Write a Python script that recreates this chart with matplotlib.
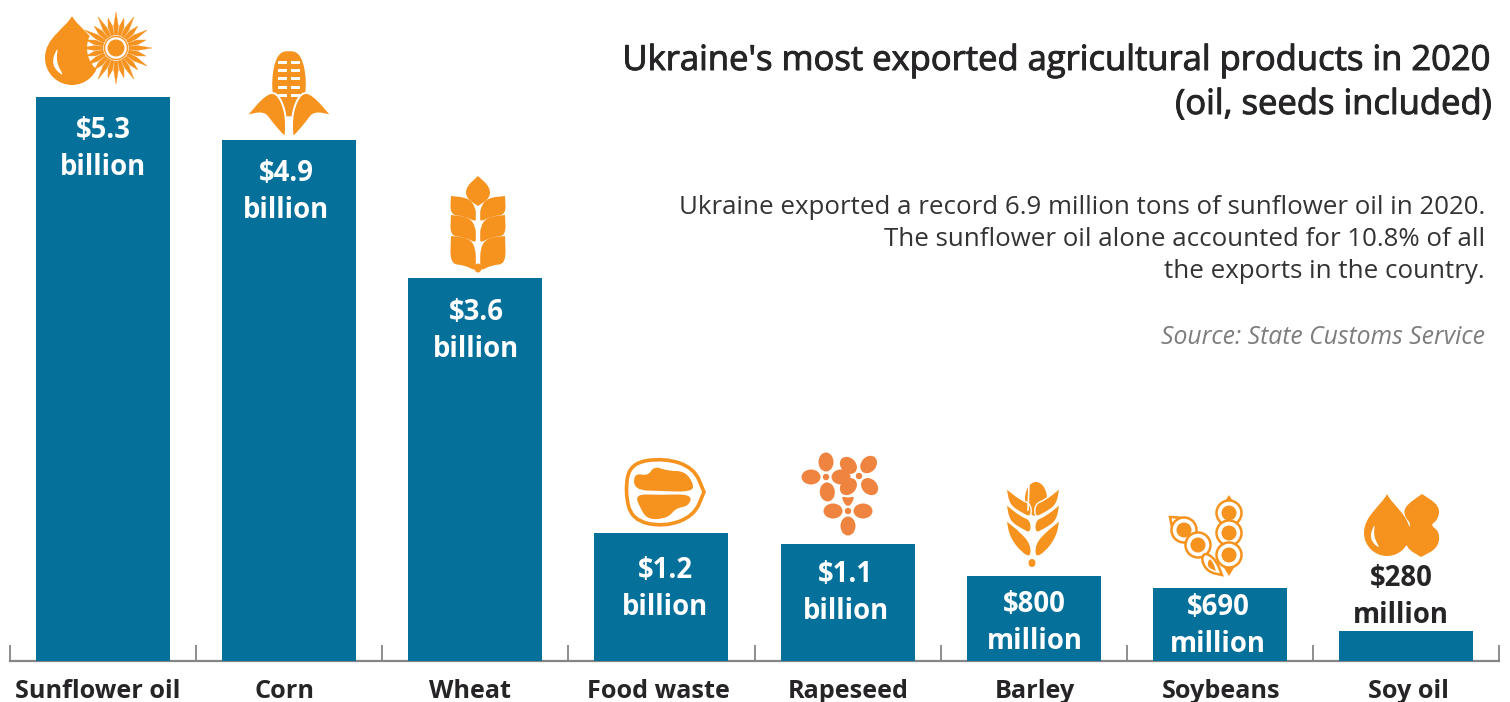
#!/usr/bin/python
import numpy as np
import matplotlib
matplotlib.use("Agg")
import matplotlib.pyplot as plt
import matplotlib.patheffects as pe
from matplotlib.path import Path
from matplotlib.patches import PathPatch, Circle, Ellipse, Rectangle

# Export values, billions of dollars
products = ["Sunflower oil", "Corn", "Wheat", "Food waste", "Rapeseed", "Barley", "Soybeans", "Soy oil"]
export_values = [5.3, 4.9, 3.6, 1.2, 1.1, 0.80, 0.69, 0.28]
value_labels = ["$5.3\nbillion", "$4.9\nbillion", "$3.6\nbillion", "$1.2\nbillion",
                "$1.1\nbillion", "$800\nmillion", "$690\nmillion", "$280\nmillion"]

title_lines = ["Ukraine's most exported agricultural products in 2020", "(oil, seeds included)"]
note_lines = ["Ukraine exported a record 6.9 million tons of sunflower oil in 2020.",
              "The sunflower oil alone accounted for 10.8% of all",
              "the exports in the country."]
source_text = "Source: State Customs Service"

# Label nudges in pixels, measured from the bar centre / bar top
product_dx = [-5, -5, -5, -3, 1, 1, 1, 3]
value_dx = [0, -3, 1, 4, -2, 1, -2, -5]
value_dy = [52, 52, 53, 56, 49, 47, 38, -34]

BLUE = "#05709a"
ORANGE = "#f6931f"
PETAL = "#ef8440"
DARK = "#262426"
FONT = "Open Sans"
PX = 0.72  # points per pixel at 100 dpi


def blob(ax, pts, color=ORANGE, ec="none", lw=0, z=3):
    # Smooth closed shape through the midpoints of pts
    pts = np.asarray(pts, dtype=float)
    n = len(pts)
    mids = (pts + np.roll(pts, -1, axis=0)) / 2
    verts = [mids[-1]]
    codes = [Path.MOVETO]
    for i in range(n):
        verts += [pts[i], mids[i]]
        codes += [Path.CURVE3, Path.CURVE3]
    ax.add_patch(PathPatch(Path(verts, codes), fc=color, ec=ec, lw=lw, zorder=z))


def drop(ax, cx, tip, bottom, r, z=3):
    cy = bottom - r
    k = 0.55 * r
    verts = [(cx, tip),
             (cx + 0.25 * r, tip + 0.3 * (cy - tip)), (cx + r, cy - 0.75 * r), (cx + r, cy),
             (cx + r, cy + k), (cx + k, bottom), (cx, bottom),
             (cx - k, bottom), (cx - r, cy + k), (cx - r, cy),
             (cx - r, cy - 0.75 * r), (cx - 0.25 * r, tip + 0.3 * (cy - tip)), (cx, tip)]
    codes = [Path.MOVETO] + [Path.CURVE4] * 12
    ax.add_patch(PathPatch(Path(verts, codes), fc=ORANGE, ec="none", zorder=z))
    # highlight on the left side of the drop
    blob(ax, [(cx - 0.5 * r, cy - 0.5 * r), (cx - 0.8 * r, cy + 0.25 * r), (cx - 0.25 * r, cy + 0.75 * r),
              (cx - 0.6 * r, cy + 0.15 * r)], color="white", z=z + 1)


def sunflower(ax, cx, cy):
    ax.add_patch(Circle((cx, cy), 29, fc="white", ec="none", zorder=3.5))
    ax.add_patch(Circle((cx, cy), 8.5, fc=ORANGE, ec="none", zorder=5))
    ax.add_patch(Circle((cx, cy), 11.5, fc="none", ec=ORANGE, lw=1.0, zorder=5))
    for i, a in enumerate(np.deg2rad(np.arange(0, 360, 360 / 24))):
        u = np.array([np.cos(a), np.sin(a)])
        v = np.array([-u[1], u[0]])
        c = np.array([cx, cy])
        L = 36 if i % 2 == 0 else 31
        tri = [c + u * 13 - v * 1.5, c + u * 22 - v * 2.3, c + u * L, c + u * 22 + v * 2.3, c + u * 13 + v * 1.5]
        ax.fill(*zip(*tri), color=ORANGE, lw=0.3, zorder=5)


def corn(ax, cx):
    blob(ax, [(cx, 50), (cx + 12, 54), (cx + 18, 80), (cx + 14, 112), (cx, 118),
              (cx - 14, 112), (cx - 18, 80), (cx - 12, 54)])
    for y in [61, 69, 77, 86, 94]:
        for side in [-1, 1]:
            x0 = cx + 2 if side > 0 else cx - 11
            ax.add_patch(Rectangle((x0, y), 9, 3.2, fc="white", ec="none", zorder=4))
    for s in [-1, 1]:
        blob(ax, [(cx + s * 3, 137), (cx + s * 3, 112), (cx + s * 12, 92), (cx + s * 24, 94),
                  (cx + s * 43, 116), (cx + s * 43, 116), (cx + s * 25, 112), (cx + s * 18, 122),
                  (cx + s * 5, 137)], ec="white", lw=1.4, z=5)


def wheat(ax, cx):
    blob(ax, [(cx, 176), (cx, 176), (cx + 12, 187), (cx + 12, 198), (cx, 206), (cx, 206), (cx - 12, 198), (cx - 12, 187)])
    rows = [(196, 215), (215, 236), (236, 264)]
    for top, bot in rows:
        for s in [-1, 1]:
            blob(ax, [(cx + s * 27, top), (cx + s * 27, top), (cx + s * 28, bot), (cx + s * 14, bot + 1),
                      (cx + s * 2.2, bot + 7), (cx + s * 2.2, bot + 2), (cx + s * 2.2, top + 12), (cx + s * 9, top + 2)])
    ax.add_patch(Ellipse((cx, 268), 7, 9, fc=ORANGE, ec="none", zorder=3))


def walnut(ax):
    blob(ax, [(625, 492), (630, 463), (665, 458), (694, 468), (704, 492), (704, 492), (694, 516),
              (664, 527), (632, 520)], color="white", ec=ORANGE, lw=2.6)
    blob(ax, [(634, 490), (634, 473), (648, 476), (654, 466), (668, 471), (684, 471), (693, 482),
              (693, 492), (660, 491)], z=4)
    blob(ax, [(635, 494), (660, 495), (692, 494), (689, 506), (676, 508), (668, 518), (648, 520),
              (640, 508)], z=4)


def flower(ax, cx, cy, petals, dist, size=(19, 15)):
    ax.add_patch(Circle((cx, cy), 3.2, fc=PETAL, ec="none", zorder=3))
    for ang in petals:
        a = np.deg2rad(ang)
        ax.add_patch(Ellipse((cx + dist * np.cos(a), cy + dist * np.sin(a)), size[0], size[1], angle=ang,
                             fc=PETAL, ec="none", zorder=3))


def rapeseed(ax):
    flower(ax, 826, 477, [-90, 180, 0, 85], 15)
    flower(ax, 859, 476, [-135, -50, 45, 135], 15)
    flower(ax, 848, 511, [0, 90, 180], 15)
    blob(ax, [(841, 496), (848, 498), (855, 496), (851, 505), (848, 506), (845, 505)], color=PETAL)


def barley(ax, cx):
    ax.add_patch(Ellipse((cx + 3, 499), 22, 34, fc=ORANGE, ec="none", zorder=3))
    ax.plot([cx - 4, cx - 5], [484, 510], color="white", lw=1.2, zorder=4)
    for k, dy in enumerate([0, 16, 32]):
        for s in [-1, 1]:
            tip = 488 + dy
            low = 516 + dy + (8 if k == 2 else 0)
            blob(ax, [(cx + s * 27, tip), (cx + s * 27, tip), (cx + s * 24, tip + 17), (cx + s * 12, low - 3),
                      (cx + s * 1.8, low + 2), (cx + s * 1.8, low - 12), (cx + s * 12, tip + 12)],
                 ec="white", lw=1.0, z=3.2 + 0.1 * k)
    ax.add_patch(Ellipse((cx - 1, 563), 7, 8, fc=ORANGE, ec="none", zorder=3))


def pod_seed(ax, x, y, r=12.5, z=3):
    ax.add_patch(Circle((x, y), r, fc="white", ec=ORANGE, lw=1.8, zorder=z))
    ax.add_patch(Circle((x, y), r - 5.0, fc=ORANGE, ec="none", zorder=z + 0.01))


def soybeans(ax):
    blob(ax, [(1170, 517), (1170, 517), (1186, 518), (1194, 530), (1178, 538), (1172, 528)], color="white", ec=ORANGE, lw=1.8)
    pod_seed(ax, 1184, 530)
    pod_seed(ax, 1198, 545)
    blob(ax, [(1205, 552), (1216, 560), (1222, 575), (1222, 575), (1208, 572), (1201, 560)], color="white", ec=ORANGE, lw=1.8, z=3)
    blob(ax, [(1209, 558), (1213, 562), (1216, 571), (1216, 571), (1207, 567)], z=3.1)
    blob(ax, [(1229, 495), (1229, 495), (1240, 512), (1218, 512)], z=3.3)
    blob(ax, [(1229, 576), (1229, 576), (1240, 558), (1218, 558)], z=3.3)
    for y in [513, 533, 555]:
        pod_seed(ax, 1229, y, z=3.5)


def soy_lobes(ax):
    pts = [(1422, 494), (1422, 494), (1440, 506), (1438, 520), (1430, 525), (1440, 532), (1438, 548),
           (1421, 557), (1421, 557), (1406, 548), (1404, 532), (1412, 525), (1404, 516), (1405, 506)]
    blob(ax, pts)


fig = plt.figure(figsize=(15.10, 7.02), dpi=100, facecolor="white")

# Bars: one unit of the value axis is 106.4 px, baseline at y = 661 px
ax = fig.add_axes([10 / 1510, (702 - 661) / 702, (1499 - 10) / 1510, 661 / 702])
centers = np.arange(len(products)) + 0.5
ax.bar(centers, export_values, width=0.72, color=BLUE, zorder=3)
ax.set_xlim(0, len(products))
ax.set_ylim(0, 661 / 106.4)
ax.patch.set_alpha(0)
for name in ["top", "left", "right"]:
    ax.spines[name].set_visible(False)
ax.spines["bottom"].set_color("#858585")
ax.spines["bottom"].set_linewidth(1.6)
ax.set_yticks([])
ax.set_xticks(np.arange(len(products) + 1))
ax.set_xticklabels([])
ax.tick_params(axis="x", direction="in", length=11.5, width=1.3, color="#858585")

for i, (c, v, label) in enumerate(zip(centers, export_values, value_labels)):
    ax.annotate(label, (c, v), xytext=(value_dx[i] * PX, -value_dy[i] * PX), textcoords="offset points",
                ha="center", va="center", family=FONT, weight="bold", fontsize=19.8, linespacing=1.36,
                color="white" if v > 0.5 else DARK, zorder=6)
    ax.annotate(products[i], (c, 0), xytext=(product_dx[i] * PX, -30.5 * PX), textcoords="offset points",
                ha="center", va="center", family=FONT, weight="bold", fontsize=18.2, color=DARK,
                annotation_clip=False)

# Overlay in pixel coordinates for the pictographs and the text block
ov = fig.add_axes([0, 0, 1, 1])
ov.set_xlim(0, 1510)
ov.set_ylim(702, 0)
ov.axis("off")

sunflower(ov, 116, 48)
drop(ov, 72, 16, 85, 27)
corn(ov, 289)
wheat(ov, 478)
walnut(ov)
rapeseed(ov)
barley(ov, 1033)
soybeans(ov)
soy_lobes(ov)
ov.add_patch(Circle((1387, 532), 27, fc="white", ec="none", zorder=2.9))
drop(ov, 1387, 494, 556, 23, z=3.4)

# Open Sans has no medium weight here, a thin stroke thickens the heading
for y, line in zip([61, 105], title_lines):
    ov.text(1492, y, line, ha="right", va="center", family=FONT, fontsize=24.9, color=DARK,
            path_effects=[pe.withStroke(linewidth=0.7, foreground=DARK)])
for y, line in zip([207, 239, 272], note_lines):
    ov.text(1485, y, line, ha="right", va="center", family=FONT, fontsize=18.6, color="#333333")
ov.text(1485, 337, source_text, ha="right", va="center", family=FONT, style="italic",
        fontsize=17.8, color="#7d7d7d")

fig.savefig("out.png", dpi=100)
